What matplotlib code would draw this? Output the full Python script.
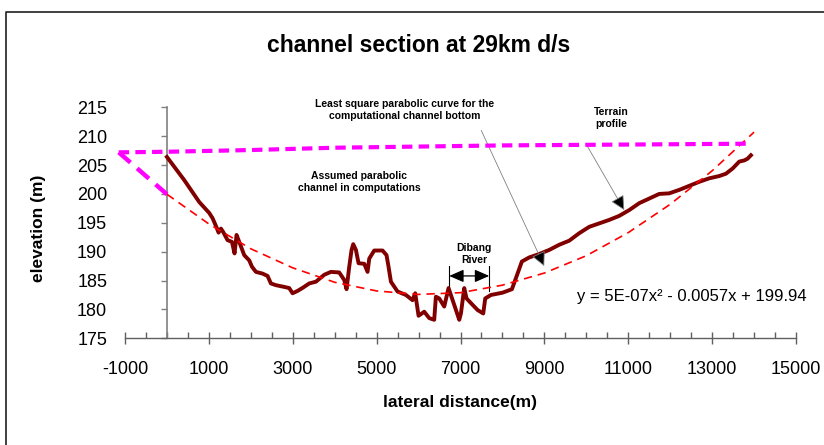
import matplotlib
matplotlib.use("Agg")
import matplotlib.pyplot as plt
from matplotlib.lines import Line2D
from matplotlib.ticker import MultipleLocator

plt.rcParams['font.family'] = ['Liberation Sans', 'DejaVu Sans']
plt.rcParams['axes.unicode_minus'] = False

# terrain profile
terrain_x = [0, 412, 770, 1009, 1088, 1183, 1231, 1287, 1342, 1445, 1550, 1612, 1660,
             1724, 1843, 1962, 2027, 2122, 2281, 2399, 2479, 2598, 2797, 2916, 2996,
             3114, 3250, 3393, 3552, 3751, 3910, 4108, 4228, 4283, 4347, 4402, 4442,
             4506, 4569, 4705, 4784, 4824, 4943, 5141, 5236, 5284, 5341, 5499, 5699,
             5856, 5920, 6000, 6135, 6254, 6373, 6413, 6493, 6612, 6715, 6850, 6970,
             7010, 7089, 7144, 7248, 7407, 7542, 7590, 7725, 8002, 8226, 8360, 8464,
             8638, 8877, 9115, 9354, 9592, 9831, 10069, 10308, 10546, 10785, 11023,
             11262, 11500, 11739, 11977, 12216, 12454, 12693, 12931, 13170, 13329,
             13488, 13647, 13766, 13845, 13925]
terrain_y = [206.4, 202.4, 198.6, 196.7, 195.8, 194.2, 193.3, 194.0, 193.4, 192.0, 191.7,
             189.7, 192.9, 191.7, 189.4, 188.5, 187.4, 186.5, 186.2, 185.8, 184.5, 184.2,
             183.9, 183.7, 182.8, 183.2, 183.8, 184.5, 184.8, 186.0, 186.5, 186.4, 185.1,
             183.5, 187.4, 190.3, 191.3, 190.3, 188.0, 187.9, 186.5, 188.8, 190.2, 190.2,
             189.4, 187.4, 184.8, 183.1, 182.5, 181.6, 182.8, 178.9, 179.6, 178.5, 178.2,
             182.2, 181.9, 180.5, 183.7, 180.8, 178.2, 179.3, 183.7, 181.9, 181.1, 179.9,
             179.3, 181.9, 182.5, 182.9, 183.5, 186.2, 188.3, 189.0, 189.6, 190.3, 191.2,
             191.9, 193.2, 194.3, 194.9, 195.5, 196.2, 197.2, 198.4, 199.2, 200.0, 200.1,
             200.7, 201.4, 202.1, 202.7, 203.1, 203.5, 204.4, 205.6, 205.8, 206.1, 206.7]

# least square parabolic channel bottom
fit_x = [0, 1000, 2000, 3000, 4000, 5000, 6000, 7000, 8000, 9000, 10000, 11000,
         12000, 13000, 14000]
fit_y = [199.94, 194.8, 190.5, 187.2, 184.7, 183.2, 182.6, 182.9, 184.2, 186.3, 189.3,
         193.3, 198.2, 204.0, 210.7]

# assumed parabolic channel (magenta)
top_x = [-1150, 0, 2000, 4000, 6000, 8000, 10000, 12000, 13900]
top_y = [207.2, 207.3, 207.6, 208.0, 208.2, 208.4, 208.5, 208.6, 208.7]
side_x = [-1150, 0]
side_y = [207.2, 199.94]

W, H = 824, 445
fig = plt.figure(figsize=(W / 100, H / 100), dpi=100)
ax = fig.add_axes([125 / W, 1 - 338.3 / H, (796 - 125) / W, (338.3 - 107.3) / H])

ax.plot(terrain_x, terrain_y, color='#800000', lw=2.8, solid_joinstyle='round', zorder=3)
ax.plot(fit_x, fit_y, color='red', lw=1.2, dashes=(5, 3.5), zorder=4)
ax.plot(top_x, top_y, color='#ff00ff', lw=3, dashes=(2.5, 1.5), zorder=5, clip_on=False)
ax.plot(side_x, side_y, color='#ff00ff', lw=3.2, dashes=(3.5, 2), zorder=5, clip_on=False)

ax.set_xlim(-1000, 15000)
ax.set_ylim(175, 215)
ax.set_xticks(range(-1000, 15001, 2000))
ax.xaxis.set_minor_locator(MultipleLocator(500))
ax.set_yticks(range(175, 216, 5))

for s in ['top', 'right']:
    ax.spines[s].set_visible(False)
ax.spines['left'].set_position(('data', 0))
ax.spines['left'].set_color('#808080')
ax.spines['left'].set_linewidth(1.2)
ax.spines['bottom'].set_color('#606060')
ax.spines['bottom'].set_linewidth(1.0)

ax.tick_params(axis='x', which='major', direction='inout', length=8, width=1,
               color='#606060', labelsize=13, pad=12)
ax.tick_params(axis='x', which='minor', direction='in', length=4, width=1, color='#606060')
ax.tick_params(axis='y', direction='out', length=4.3, width=1, color='#808080',
               labelsize=13, pad=38.7)

# annotations
small = dict(fontsize=7.5, fontweight='bold', ha='center', va='center', linespacing=1.25)
ax.text(5658, 214.6, 'Least square parabolic curve for the\ncomputational channel bottom', **small)
ax.text(4585, 202.0, 'Assumed parabolic\nchannel in computations', **small)
ax.text(10606, 213.1, 'Terrain\nprofile', **small)
ax.text(7327, 189.6, 'Dibang\nRiver', **small)

arrow = dict(arrowstyle='-|>,head_length=0.8,head_width=0.4', mutation_scale=11,
             ec='#808080', fc='black', lw=0.6, shrinkA=0, shrinkB=0)
ax.annotate('', xy=(8996, 187.5), xytext=(7494, 211.0), arrowprops=arrow)
ax.annotate('', xy=(10904, 197.2), xytext=(9990, 208.7), arrowprops=arrow)

ax.annotate('', xy=(6731, 185.8), xytext=(7685, 185.8),
            arrowprops=dict(arrowstyle='<|-|>,head_length=0.8,head_width=0.35',
                            mutation_scale=11, color='black', lw=0.9, shrinkA=0, shrinkB=0))
ax.plot([6731, 6731], [183.2, 187.5], color='black', lw=0.8)
ax.plot([7685, 7685], [183.2, 187.5], color='black', lw=0.8)

ax.text(9788, 182.2, 'y = 5E-07x² - 0.0057x + 199.94', fontsize=12, ha='left', va='center')

fig.text(419 / W, 1 - 45 / H, 'channel section at 29km d/s', fontsize=16.5,
         fontweight='bold', ha='center', va='center')
fig.text(460 / W, 1 - 403 / H, 'lateral distance(m)', fontsize=12.5,
         fontweight='bold', ha='center', va='center')
fig.text(38 / W, 1 - 228 / H, 'elevation (m)', fontsize=12.5, fontweight='bold',
         rotation=90, ha='center', va='center')

# chart area border
fig.add_artist(Line2D([6 / W, 6 / W, 1.01], [-0.01, 1 - 12 / H, 1 - 12 / H],
                      transform=fig.transFigure, color='#202020', lw=1.2))

fig.savefig('out.png', dpi=100)
